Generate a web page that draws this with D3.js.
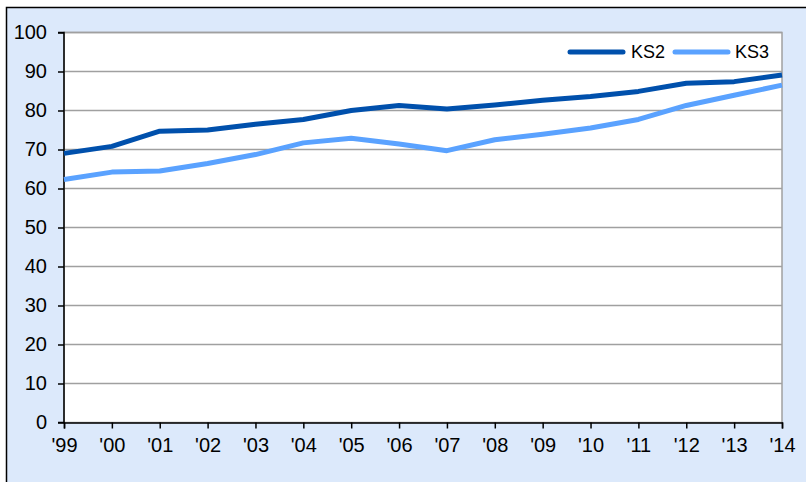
<!DOCTYPE html>
<html>
<head>
<meta charset="utf-8">
<script src="https://cdn.jsdelivr.net/npm/d3@7"></script>
<style>
  html, body { margin: 0; padding: 0; background: #fff; }
  svg { display: block; font-family: Arial, "Liberation Sans", sans-serif; }
</style>
</head>
<body>
<svg id="chart" width="806" height="482"></svg>
<script>
const years = ["'99", "'00", "'01", "'02", "'03", "'04", "'05", "'06", "'07", "'08", "'09", "'10", "'11", "'12", "'13", "'14"];
const ks2 = [69.0, 70.8, 74.7, 75.0, 76.5, 77.7, 80.0, 81.3, 80.4, 81.4, 82.6, 83.6, 84.9, 87.0, 87.4, 89.1];
const ks3 = [62.3, 64.2, 64.5, 66.4, 68.7, 71.7, 72.9, 71.4, 69.7, 72.5, 73.9, 75.5, 77.7, 81.3, 83.9, 86.5];
const yTicks = [0, 10, 20, 30, 40, 50, 60, 70, 80, 90, 100];
const series = [
    { name: "KS2", values: ks2, color: "#0050ac" },
    { name: "KS3", values: ks3, color: "#5aa2ff" }
];

const svg = d3.select("#chart");
const width = 806, height = 482;

// outer frame (runs off the right and bottom edges)
svg.append("rect")
    .attr("x", 6.5).attr("y", 7.5)
    .attr("width", width + 10).attr("height", height + 10)
    .attr("fill", "#dce9fb")
    .attr("stroke", "#000")
    .attr("stroke-width", 1.5);

const margin = { top: 32.5, right: 24, bottom: 59.5, left: 64 };
const innerWidth = width - margin.left - margin.right;
const innerHeight = height - margin.top - margin.bottom;

const g = svg.append("g")
    .attr("transform", `translate(${margin.left},${margin.top})`);

const x = d3.scalePoint()
    .domain(years)
    .range([0, innerWidth]);

const y = d3.scaleLinear()
    .domain([0, 100])
    .range([innerHeight, 0]);

g.append("rect")
    .attr("width", innerWidth)
    .attr("height", innerHeight)
    .attr("fill", "#fff")
    .attr("stroke", "#a0a0a0")
    .attr("stroke-width", 1.5);

// gridlines
g.selectAll(".grid")
    .data(yTicks.filter(d => d > 0))
    .enter().append("line")
    .attr("x1", 0).attr("x2", innerWidth)
    .attr("y1", d => y(d)).attr("y2", d => y(d))
    .attr("stroke", "#a0a0a0")
    .attr("stroke-width", 1.5);

// AXES
const yAxis = g.append("g")
    .call(d3.axisLeft(y).tickValues(yTicks).tickSize(6).tickPadding(11));
const xAxis = g.append("g")
    .attr("transform", `translate(0,${innerHeight})`)
    .call(d3.axisBottom(x).tickSize(6).tickPadding(9));

[xAxis, yAxis].forEach(ax => {
    ax.attr("font-size", 20).attr("font-family", "Arial, 'Liberation Sans', sans-serif");
    ax.select(".domain").attr("stroke", "#000").attr("stroke-width", 1.5);
    ax.selectAll(".tick line").attr("stroke", "#000").attr("stroke-width", 1.5);
    ax.selectAll(".tick text").attr("fill", "#000");
});
yAxis.select(".domain").attr("d", `M-6,0H0V${innerHeight}H-6`);

// LINES
const line = d3.line()
    .x((d, i) => x(years[i]))
    .y(d => y(d));

g.selectAll(".series")
    .data(series)
    .enter().append("path")
    .attr("class", "series")
    .attr("d", d => line(d.values))
    .attr("fill", "none")
    .attr("stroke", d => d.color)
    .attr("stroke-width", 5)
    .attr("stroke-linejoin", "round");

// LEGEND
const legendPos = [{ x: 570, tx: 631 }, { x: 675, tx: 735 }];
const legend = svg.append("g");
series.forEach((s, i) => {
    legend.append("line")
        .attr("x1", legendPos[i].x).attr("x2", legendPos[i].x + 53)
        .attr("y1", 52).attr("y2", 52)
        .attr("stroke", s.color)
        .attr("stroke-width", 5)
        .attr("stroke-linecap", "round");
    legend.append("text")
        .attr("x", legendPos[i].tx)
        .attr("y", 52)
        .attr("dy", "0.35em")
        .attr("font-size", 18)
        .attr("fill", "#000")
        .text(s.name);
});
</script>
</body>
</html>
